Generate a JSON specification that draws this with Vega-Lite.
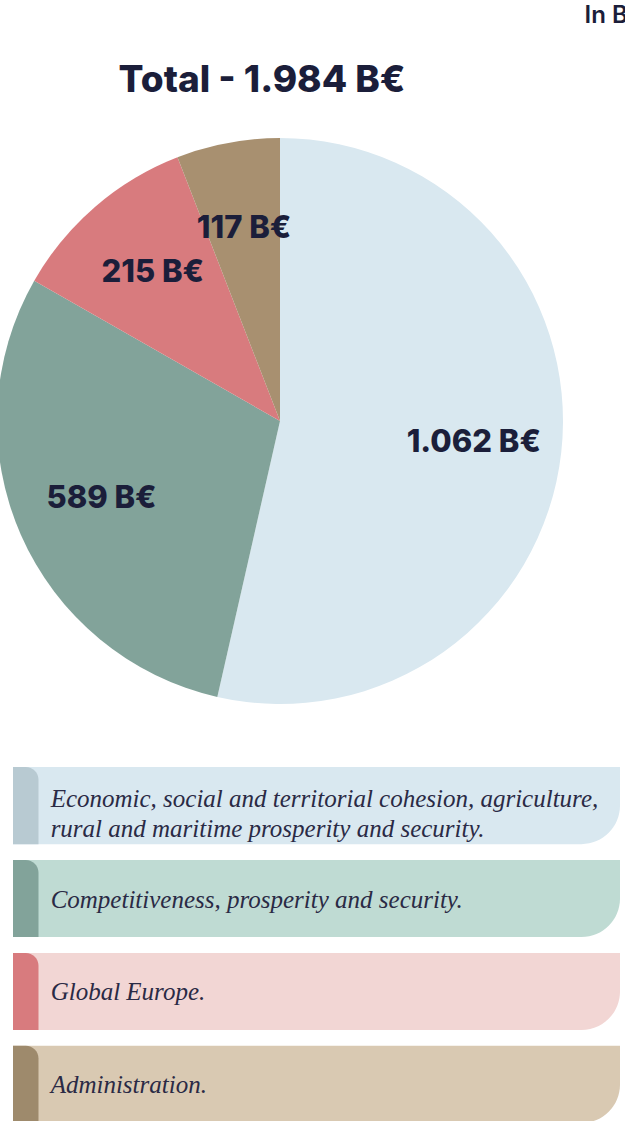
{
  "$schema": "https://vega.github.io/schema/vega-lite/v6.json",
  "background": "white",
  "padding": {"left": -3, "top": 4, "right": 0, "bottom": 0},
  "title": {"text": "In B€", "anchor": "end", "dx": 24, "fontSize": 24, "font": "Inter", "fontWeight": 600, "color": "#1b1e3a", "offset": 34},
  "datasets": {
    "budget": [
      {"key": "cohesion", "value": 1062, "label": "1.062 B€", "order": 1, "text": "Economic, social and territorial cohesion, agriculture,\nrural and maritime prosperity and security."},
      {"key": "competitiveness", "value": 589, "label": "589 B€", "order": 2, "text": "Competitiveness, prosperity and security."},
      {"key": "global", "value": 215, "label": "215 B€", "order": 3, "text": "Global Europe."},
      {"key": "administration", "value": 117, "label": "117 B€", "order": 4, "text": "Administration."}
    ]
  },
  "spacing": 63,
  "resolve": {"scale": {"color": "independent"}},
  "vconcat": [
    {
      "width": 534,
      "height": 566,
      "title": {"text": "Total - 1.984 B€", "fontSize": 37, "font": "Inter", "fontWeight": 800, "color": "#1b1e3a", "anchor": "middle", "dx": -18, "offset": 38},
      "data": {"name": "budget"},
      "encoding": {
        "theta": {"field": "value", "type": "quantitative", "stack": true},
        "order": {"field": "order", "type": "quantitative"}
      },
      "layer": [
        {
          "mark": {"type": "arc", "outerRadius": 283},
          "encoding": {
            "color": {"field": "key", "type": "nominal", "legend": null,
              "scale": {"domain": ["cohesion", "competitiveness", "global", "administration"], "range": ["#d9e8f0", "#82a39a", "#d87b7e", "#a89070"]}}
          }
        },
        {
          "mark": {"type": "text", "radius": 195, "fontSize": 31, "font": "Inter", "fontWeight": 800, "fill": "#1b1e3a"},
          "encoding": {"text": {"field": "label", "type": "nominal"}}
        }
      ]
    },
    {
      "width": 607,
      "height": 356,
      "data": {"name": "budget"},
      "resolve": {"scale": {"color": "independent"}},
      "encoding": {
        "y": {"field": "key", "type": "nominal", "sort": {"field": "order", "op": "min"}, "axis": null, "scale": {"paddingInner": 0.17, "paddingOuter": 0}}
      },
      "layer": [
        {
          "mark": {"type": "bar", "cornerRadiusBottomRight": 45},
          "encoding": {
            "x": {"datum": 0, "type": "quantitative", "scale": {"domain": [0, 1]}, "axis": null},
            "x2": {"datum": 1},
            "color": {"field": "key", "type": "nominal", "legend": null,
              "scale": {"domain": ["cohesion", "competitiveness", "global", "administration"], "range": ["#d9e8f0", "#bfdbd3", "#f2d6d4", "#d9c9b2"]}}
          }
        },
        {
          "mark": {"type": "bar", "cornerRadiusTopRight": 22},
          "encoding": {
            "x": {"datum": 0, "type": "quantitative", "scale": {"domain": [0, 1]}, "axis": null},
            "x2": {"datum": 0.042},
            "color": {"field": "key", "type": "nominal", "legend": null,
              "scale": {"domain": ["cohesion", "competitiveness", "global", "administration"], "range": ["#b8cad2", "#82a39a", "#d87b7e", "#9e8a6c"]}}
          }
        },
        {
          "mark": {"type": "text", "align": "left", "baseline": {"expr": "indexof(datum.text, '\\n') >= 0 ? 'alphabetic' : 'middle'"}, "lineBreak": "\n", "font": "Liberation Serif", "fontStyle": "italic", "fontSize": 25, "lineHeight": 30, "fill": "#2a2a45", "dy": 1},
          "encoding": {
            "x": {"datum": 0.062, "type": "quantitative"},
            "text": {"field": "text", "type": "nominal"}
          }
        }
      ]
    }
  ],
  "config": {"view": {"stroke": null}}
}
